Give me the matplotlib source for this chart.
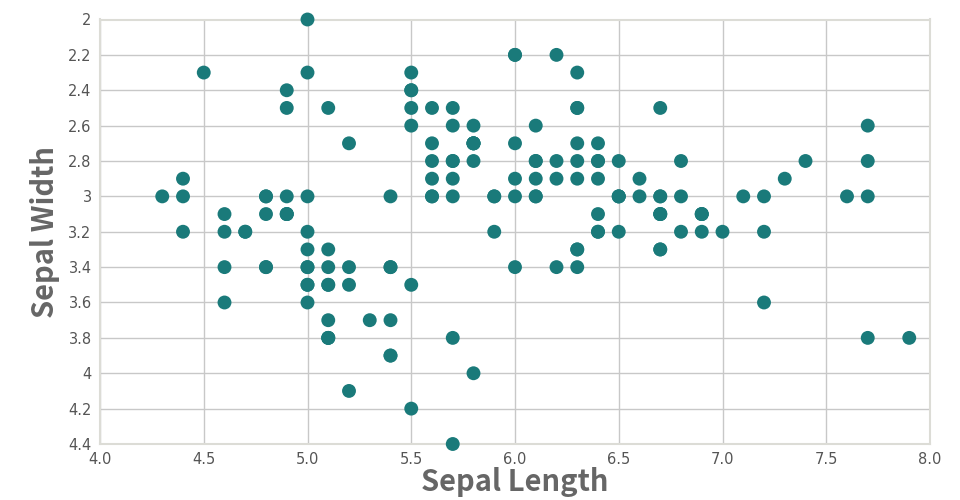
import numpy as np
import matplotlib.pyplot as plt
from matplotlib.ticker import FuncFormatter

plt.rcParams['font.family'] = ['DejaVu Sans']

# iris sepal measurements
sepal_length = [
    5.1, 4.9, 4.7, 4.6, 5.0, 5.4, 4.6, 5.0, 4.4, 4.9, 5.4, 4.8, 4.8, 4.3, 5.8, 5.7, 5.4, 5.1, 5.7, 5.1,
    5.4, 5.1, 4.6, 5.1, 4.8, 5.0, 5.0, 5.2, 5.2, 4.7, 4.8, 5.4, 5.2, 5.5, 4.9, 5.0, 5.5, 4.9, 4.4, 5.1,
    5.0, 4.5, 4.4, 5.0, 5.1, 4.8, 5.1, 4.6, 5.3, 5.0,
    7.0, 6.4, 6.9, 5.5, 6.5, 5.7, 6.3, 4.9, 6.6, 5.2, 5.0, 5.9, 6.0, 6.1, 5.6, 6.7, 5.6, 5.8, 6.2, 5.6,
    5.9, 6.1, 6.3, 6.1, 6.4, 6.6, 6.8, 6.7, 6.0, 5.7, 5.5, 5.5, 5.8, 6.0, 5.4, 6.0, 6.7, 6.3, 5.6, 5.5,
    5.5, 6.1, 5.8, 5.0, 5.6, 5.7, 5.7, 6.2, 5.1, 5.7,
    6.3, 5.8, 7.1, 6.3, 6.5, 7.6, 4.9, 7.3, 6.7, 7.2, 6.5, 6.4, 6.8, 5.7, 5.8, 6.4, 6.5, 7.7, 7.7, 6.0,
    6.9, 5.6, 7.7, 6.3, 6.7, 7.2, 6.2, 6.1, 6.4, 7.2, 7.4, 7.9, 6.4, 6.3, 6.1, 7.7, 6.3, 6.4, 6.0, 6.9,
    6.7, 6.9, 5.8, 6.8, 6.7, 6.7, 6.3, 6.5, 6.2, 5.9,
]
sepal_width = [
    3.5, 3.0, 3.2, 3.1, 3.6, 3.9, 3.4, 3.4, 2.9, 3.1, 3.7, 3.4, 3.0, 3.0, 4.0, 4.4, 3.9, 3.5, 3.8, 3.8,
    3.4, 3.7, 3.6, 3.3, 3.4, 3.0, 3.4, 3.5, 3.4, 3.2, 3.1, 3.4, 4.1, 4.2, 3.1, 3.2, 3.5, 3.1, 3.0, 3.4,
    3.5, 2.3, 3.2, 3.5, 3.8, 3.0, 3.8, 3.2, 3.7, 3.3,
    3.2, 3.2, 3.1, 2.3, 2.8, 2.8, 3.3, 2.4, 2.9, 2.7, 2.0, 3.0, 2.2, 2.9, 2.9, 3.1, 3.0, 2.7, 2.2, 2.5,
    3.2, 2.8, 2.5, 2.8, 2.9, 3.0, 2.8, 3.0, 2.9, 2.6, 2.4, 2.4, 2.7, 2.7, 3.0, 3.4, 3.1, 2.3, 3.0, 2.5,
    2.6, 3.0, 2.6, 2.3, 2.7, 3.0, 2.9, 2.9, 2.5, 2.8,
    3.3, 2.7, 3.0, 2.9, 3.0, 3.0, 2.5, 2.9, 2.5, 3.6, 3.2, 2.7, 3.0, 2.5, 2.8, 3.2, 3.0, 3.8, 2.6, 2.2,
    3.2, 2.8, 2.8, 2.7, 3.3, 3.2, 2.8, 3.0, 2.8, 3.0, 2.8, 3.8, 2.8, 2.8, 2.6, 3.0, 3.4, 3.1, 3.0, 3.1,
    3.1, 3.1, 2.7, 3.2, 3.3, 3.0, 2.5, 3.0, 3.4, 3.0,
]
x_ticks = [4.0, 4.5, 5.0, 5.5, 6.0, 6.5, 7.0, 7.5, 8.0]
y_ticks = [2, 2.2, 2.4, 2.6, 2.8, 3, 3.2, 3.4, 3.6, 3.8, 4, 4.2, 4.4]

fig = plt.figure(figsize=(9.6, 5), dpi=100)
ax = fig.add_axes([100 / 960, 1 - 444 / 500, 830 / 960, 424.5 / 500])

ax.scatter(sepal_length, sepal_width, s=100, color='#1a7a7a', edgecolors='none',
           zorder=5, clip_on=False)

ax.set_xlim(4.0, 8.0)
ax.set_ylim(4.4, 2.0)
ax.set_xticks(x_ticks)
ax.set_yticks(y_ticks)
ax.xaxis.set_major_formatter(FuncFormatter(lambda v, p: f'{v:.1f}'))
ax.yaxis.set_major_formatter(FuncFormatter(lambda v, p: f'{v:g}'))

ax.grid(True, color='#c8c8c8', linewidth=1)
ax.set_axisbelow(True)
for sp in ax.spines.values():
    sp.set_color('#dcdcd6')
    sp.set_linewidth(1.5)
ax.tick_params(length=0, labelsize=10.5, labelcolor='#555555', pad=6)

ax.set_xlabel('Sepal Length', fontsize=21, color='#666666', fontweight='bold',
              family=['Noto Sans CJK JP', 'DejaVu Sans'], labelpad=0)
ax.set_ylabel('Sepal Width', fontsize=21, color='#666666', fontweight='bold',
              family=['Noto Sans CJK JP', 'DejaVu Sans'], labelpad=6)

fig.savefig('out.png', dpi=100)
